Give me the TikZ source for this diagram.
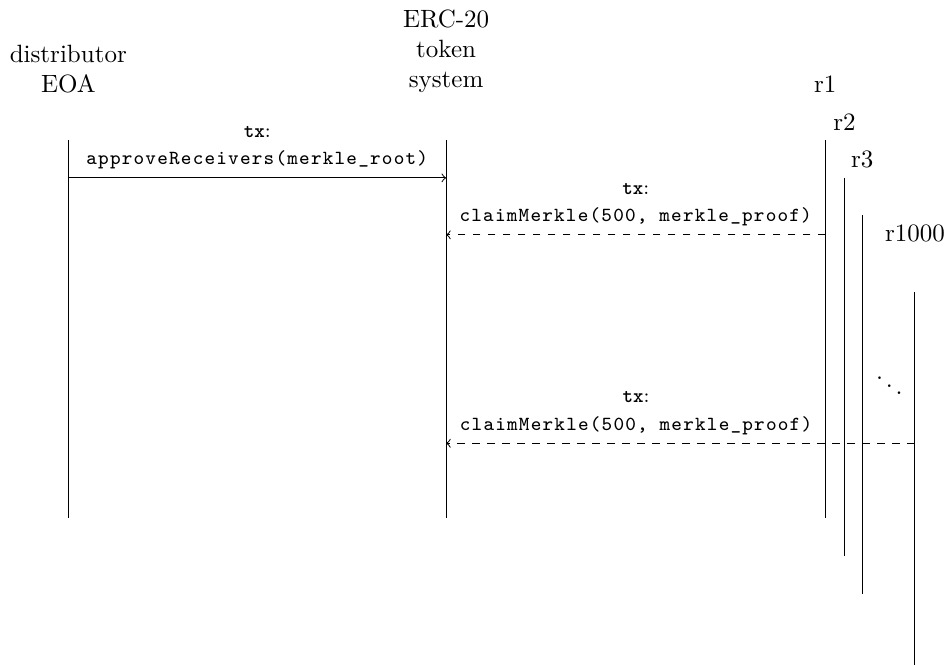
\documentclass[tikz,border=0pt]{standalone}
\usepackage{fontspec}
\newfontfamily\callfont{Latin Modern Mono}[LetterSpace=6]
\usetikzlibrary{positioning}

\begin{document}
\begin{tikzpicture}[
  life/.style={draw},
  head/.style={align=center},
  msg/.style={align=center, font=\footnotesize},
  call/.style={->},
  reply/.style={->, dashed}
]
\useasboundingbox (0,0) rectangle (13.31,-9.34);

% lifelines
\coordinate (dtop)  at (0.96,-1.97);
\coordinate (dbot)  at (0.96,-7.28);
\coordinate (etop)  at (6.27,-1.97);
\coordinate (ebot)  at (6.27,-7.28);
\coordinate (r1top) at (11.60,-1.97);
\coordinate (r1bot) at (11.60,-7.28);
\coordinate (r2top) at (11.87,-2.50);
\coordinate (r2bot) at (11.87,-7.82);
\coordinate (r3top) at (12.12,-3.02);
\coordinate (r3bot) at (12.12,-8.35);
\coordinate (rntop) at (12.86,-4.11);
\coordinate (rnbot) at (12.86,-9.42);

\node[head, above=0.54cm of dtop]  (dist)  {distributor\\EOA};
\node[head, above=0.54cm of etop]  (erc)   {ERC-20\\token\\system};
\node[head, above=0.54cm of r1top] (r1)    {r1};
\node[head, above=0.54cm of r2top] (r2)    {r2};
\node[head, above=0.54cm of r3top] (r3)    {r3};
\node[head, above=0.58cm of rntop] (rn)    {r1000};
\node[anchor=base] (dots) at (12.50,-5.58) {$\ddots$};

\draw[life] (dtop) -- (dbot);
\draw[life] (etop) -- (ebot);
\draw[life] (r1top) -- (r1bot);
\draw[life] (r2top) -- (r2bot);
\draw[life] (r3top) -- (r3bot);
\draw[life] (rntop) -- (rnbot);

% messages
\coordinate (d1)  at (0.96,-2.50);
\coordinate (e1)  at (6.27,-2.50);
\coordinate (r1a) at (11.60,-3.30);
\coordinate (e2)  at (6.27,-3.30);
\coordinate (rna) at (12.86,-6.23);
\coordinate (e3)  at (6.27,-6.23);

\draw[call] (d1) -- (e1)
  node[msg, midway, above] (m1) {\texttt{\textbf{tx}}:\\[1.5pt]{\callfont approveReceivers(merkle\_root)}};
\draw[reply] (r1a) -- (e2)
  node[msg, midway, above] (m2) {\texttt{\textbf{tx}}:\\[1.5pt]{\callfont claimMerkle(500, merkle\_proof)}};
\draw[reply] (rna) -- (e3)
  node[msg, pos=0.595, above] (m3) {\texttt{\textbf{tx}}:\\[1.5pt]{\callfont claimMerkle(500, merkle\_proof)}};

\end{tikzpicture}
\end{document}
